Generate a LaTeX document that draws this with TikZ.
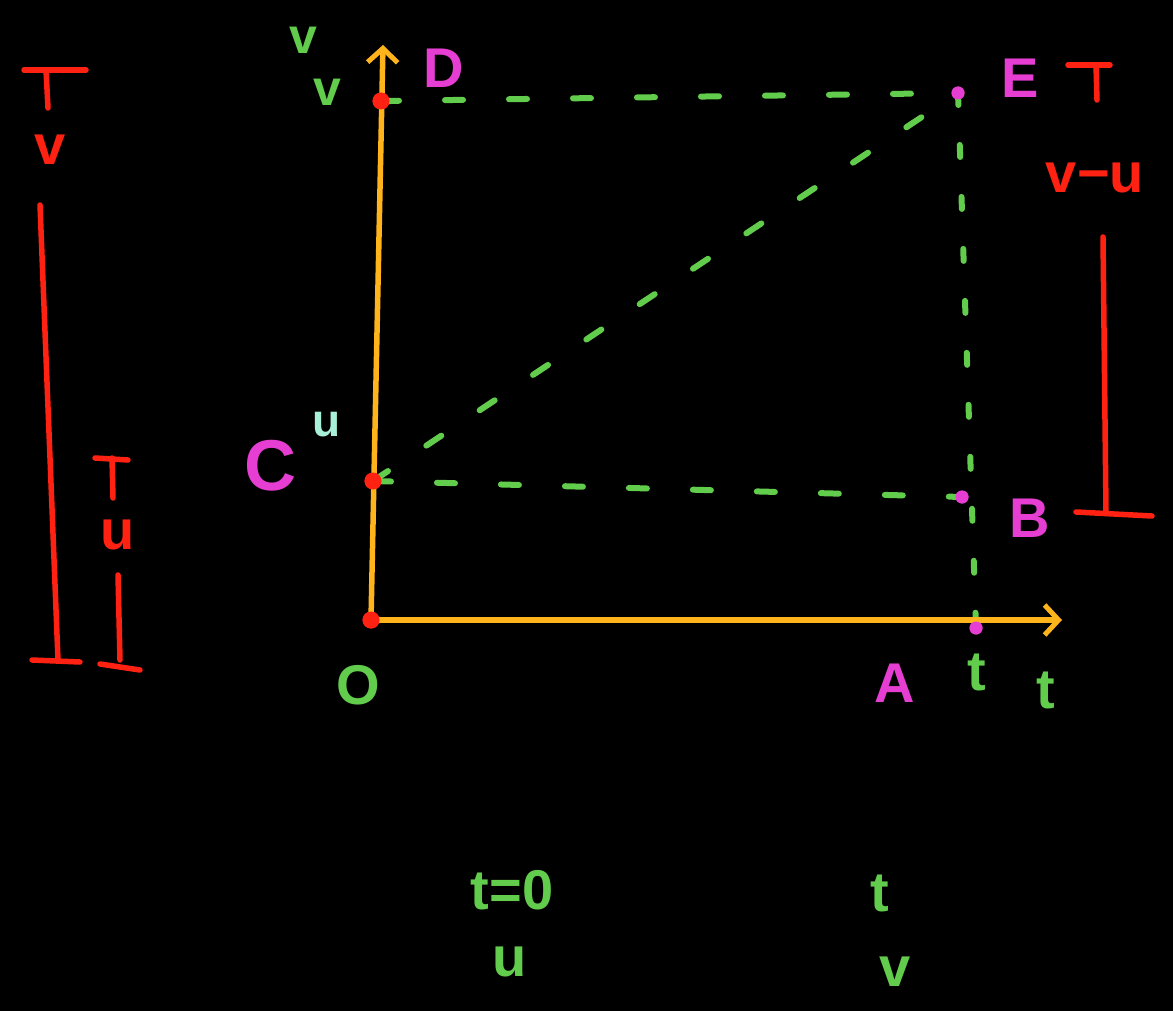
\documentclass[tikz,border=0pt]{standalone}
\usepackage{fontspec}
\setmainfont{Liberation Sans}
\usetikzlibrary{arrows.meta}
\definecolor{chalkgreen}{HTML}{62CC4C}
\definecolor{chalkpink}{HTML}{E63ED2}
\definecolor{chalkred}{HTML}{FF2212}
\definecolor{chalkyellow}{HTML}{FFB41C}
\definecolor{chalkcyan}{HTML}{A8F0D8}
\begin{document}
\begin{tikzpicture}[x=1pt,y=-1pt,
  reddot/.style={circle,fill=chalkred,inner sep=0pt,minimum size=17pt},
  pinkdot/.style={circle,fill=chalkpink,inner sep=0pt,minimum size=13pt},
  axisline/.style={draw=chalkyellow,line width=5.5pt,line cap=round,
    -{Straight Barb[length=14pt,width=30pt,line width=5pt]}},
  guide/.style={draw=chalkgreen,line width=6pt,line cap=round,dash pattern=on 18pt off 46pt},
  vguide/.style={draw=chalkgreen,line width=6pt,line cap=round,dash pattern=on 12pt off 40pt},
  dimline/.style={draw=chalkred,line width=5.5pt,line cap=round},
  greentxt/.style={text=chalkgreen,font=\fontsize{56}{58}\selectfont\bfseries,inner sep=0pt},
  pinktxt/.style={text=chalkpink,font=\fontsize{56}{58}\selectfont\bfseries,inner sep=0pt},
  redtxt/.style={text=chalkred,font=\fontsize{56}{58}\selectfont\bfseries,inner sep=0pt}]
\fill[black] (0,0) rectangle (1173,1011);
\useasboundingbox (0,0) rectangle (1173,1011);

% points
\coordinate (ytop) at (383,45);
\coordinate (xend) at (1062,620);

\node[reddot] (O) at (371,620) {};
\node[pinkdot] (A) at (976,628) {};
\node[pinkdot] (B) at (962,497) {};
\node[reddot] (C) at (373,481) {};
\node[reddot] (D) at (381,101) {};
\node[pinkdot] (E) at (958,93) {};

% guide lines
\draw[guide] (D.center) -- (E.center);
\draw[guide] (C.center) -- (B.center);
\draw[vguide] (E.center) -- (A.center);
\draw[guide] (C.center) -- (E.center);

% axes
\draw[axisline] (O.center) -- (ytop);
\draw[axisline] (O.center) -- (xend);

% dots on top
\node[reddot] at (O) {};
\node[pinkdot] at (A) {};
\node[pinkdot] at (B) {};
\node[reddot] at (C) {};
\node[reddot] at (D) {};
\node[pinkdot] at (E) {};

% point labels
\node[pinktxt] (lD) at (444,68) {D};
\node[pinktxt] (lE) at (1020,78) {E};
\node[pinktxt,font=\fontsize{72}{74}\selectfont\bfseries] (lC) at (270,466) {C};
\node[text=chalkcyan,font=\fontsize{46}{48}\selectfont\bfseries,inner sep=0pt] (lu) at (327,425) {u};
\node[pinktxt] (lB) at (1030,518) {B};
\node[pinktxt] (lA) at (895,683) {A};
\node[greentxt] (lO) at (358,685) {O};
\node[greentxt] (lt1) at (977,672) {t};
\node[greentxt] (lt2) at (1046,690) {t};
\node[greentxt,font=\fontsize{50}{52}\selectfont\bfseries] (lv1) at (303,40) {v};
\node[greentxt,font=\fontsize{50}{52}\selectfont\bfseries] (lv2) at (327,92) {v};

% bottom notes
\node[greentxt] (n1) at (512,890) {t=0};
\node[greentxt] (n2) at (510,962) {u};
\node[greentxt] (n3) at (880,893) {t};
\node[greentxt] (n4) at (895,972) {v};

% left dimension v
\coordinate (lvTa) at (24,70);
\coordinate (lvTb) at (86,70);
\coordinate (lvTs) at (46,70);
\coordinate (lvTe) at (48,108);
\draw[dimline] (lvTa) -- (lvTb);
\draw[dimline] (lvTs) -- (lvTe);
\node[redtxt] (lvv) at (50,150) {v};
\coordinate (lvLa) at (40,205);
\coordinate (lvLb) at (58,660);
\draw[dimline] (lvLa) -- (lvLb);
\coordinate (lvBa) at (32,660);
\coordinate (lvBb) at (80,662);
\draw[dimline] (lvBa) -- (lvBb);

% left dimension u
\coordinate (luTa) at (95,458);
\coordinate (luTb) at (128,460);
\coordinate (luTs) at (112,458);
\coordinate (luTe) at (113,498);
\draw[dimline] (luTa) -- (luTb);
\draw[dimline] (luTs) -- (luTe);
\node[redtxt] (luu) at (118,535) {u};
\coordinate (luLa) at (118,575);
\coordinate (luLb) at (120,660);
\draw[dimline] (luLa) -- (luLb);
\coordinate (luBa) at (100,664);
\coordinate (luBb) at (140,670);
\draw[dimline] (luBa) -- (luBb);

% right dimension v-u
\coordinate (rTa) at (1068,65);
\coordinate (rTb) at (1110,65);
\coordinate (rTs) at (1096,65);
\coordinate (rTe) at (1097,100);
\draw[dimline] (rTa) -- (rTb);
\draw[dimline] (rTs) -- (rTe);
\node[redtxt] (rvu) at (1095,178) {v−u};
\coordinate (rLa) at (1103,237);
\coordinate (rLb) at (1106,512);
\draw[dimline] (rLa) -- (rLb);
\coordinate (rBa) at (1076,512);
\coordinate (rBb) at (1152,516);
\draw[dimline] (rBa) -- (rBb);
\end{tikzpicture}
\end{document}
